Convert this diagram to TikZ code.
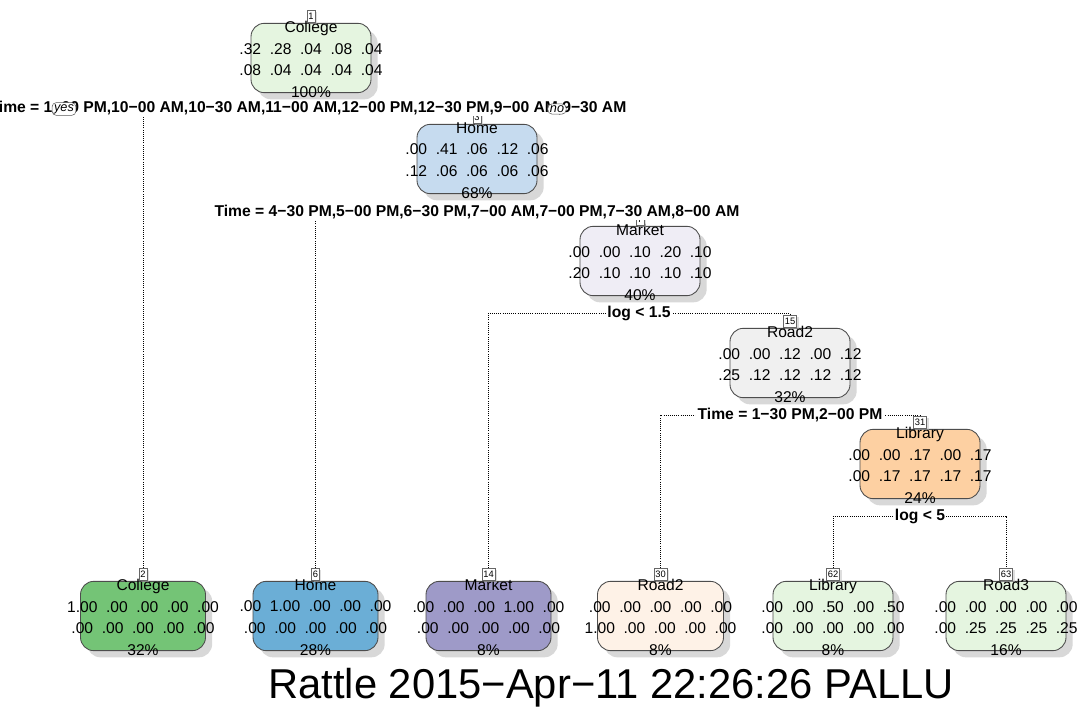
\documentclass[tikz,border=0pt]{standalone}
\usepackage{fontspec}
\setmainfont{Liberation Sans}
\usetikzlibrary{shadows}
\pgfdeclarelayer{bg}
\pgfsetlayers{bg,main}

\definecolor{collegeLt}{HTML}{E5F5E0}
\definecolor{collegeDk}{HTML}{74C476}
\definecolor{homeLt}{HTML}{C6DBEF}
\definecolor{homeDk}{HTML}{6BAED6}
\definecolor{marketLt}{HTML}{EFEDF5}
\definecolor{marketDk}{HTML}{9E9AC8}
\definecolor{roadLt}{HTML}{F0F0F0}
\definecolor{roadPale}{HTML}{FEF2E7}
\definecolor{libraryMd}{HTML}{FDD0A2}
\definecolor{boxline}{HTML}{4D4D4D}

% gap between the class probabilities in a row
\newcommand{\rg}{\hspace{.556em}}
% one tree node: box, its text, and the small node number on top
\newcommand{\rpnode}[7]{%
  \node[rpbox, fill=#4, minimum width={#5*0.75pt}] (#1) at (#2,#3+31) {};
  \node[rptext] (#1t) at (#2,#3+32.5) {#7};
  \node[rpnum] (#1k) at (#2,#3-11) {#6};
}

\begin{document}
\begin{tikzpicture}[x=0.75pt, y=-0.75pt,
    rpbox/.style={draw=boxline, line width=0.65pt, rounded corners=10pt,
      minimum height=52pt, inner sep=0pt,
      drop shadow={shadow xshift=5pt, shadow yshift=-5pt, fill=black!30}},
    rptext/.style={align=center, inner sep=0pt, font=\fontsize{11.7}{16.3}\selectfont},
    rpnum/.style={draw=gray!80!black, fill=white, line width=0.4pt, inner xsep=1pt,
      inner ysep=1pt, minimum height=9pt, font=\fontsize{7}{7.5}\selectfont,
      drop shadow={shadow xshift=1.5pt, shadow yshift=-1.5pt, fill=black!25}},
    splitlab/.style={fill=white, inner xsep=1pt, inner ysep=0.5pt,
      font=\bfseries\fontsize{11.75}{13}\selectfont},
    tag/.style={draw=gray!70!black, fill=white, rounded corners=3pt, inner xsep=1.5pt,
      inner ysep=1.2pt, font=\itshape\fontsize{9.5}{10}\selectfont},
    branch/.style={densely dotted, line width=0.6pt}]
  \useasboundingbox (0,0) rectangle (1080,712);

  % inner nodes
  \rpnode{n1}{311}{27}{collegeLt}{120}{1}{College\\.32\rg.28\rg.04\rg.08\rg.04\\.08\rg.04\rg.04\rg.04\rg.04\\100\%}
  \rpnode{n3}{477}{128}{homeLt}{120}{3}{Home\\.00\rg.41\rg.06\rg.12\rg.06\\.12\rg.06\rg.06\rg.06\rg.06\\68\%}
  \rpnode{n7}{640}{230}{marketLt}{120}{7}{Market\\.00\rg.00\rg.10\rg.20\rg.10\\.20\rg.10\rg.10\rg.10\rg.10\\40\%}
  \rpnode{n15}{790}{332}{roadLt}{120}{15}{Road2\\.00\rg.00\rg.12\rg.00\rg.12\\.25\rg.12\rg.12\rg.12\rg.12\\32\%}
  \rpnode{n31}{920}{433}{libraryMd}{120}{31}{Library\\.00\rg.00\rg.17\rg.00\rg.17\\.00\rg.17\rg.17\rg.17\rg.17\\24\%}

  % leaves
  \rpnode{n2}{143}{585}{collegeDk}{125}{2}{College\\1.00\rg.00\rg.00\rg.00\rg.00\\.00\rg.00\rg.00\rg.00\rg.00\\32\%}
  \rpnode{n6}{315.5}{585}{homeDk}{125}{6}{Home\\.00\rg1.00\rg.00\rg.00\rg.00\\.00\rg.00\rg.00\rg.00\rg.00\\28\%}
  \rpnode{n14}{488.5}{585}{marketDk}{125}{14}{Market\\.00\rg.00\rg.00\rg1.00\rg.00\\.00\rg.00\rg.00\rg.00\rg.00\\8\%}
  \rpnode{n30}{660.5}{585}{roadPale}{126}{30}{Road2\\.00\rg.00\rg.00\rg.00\rg.00\\1.00\rg.00\rg.00\rg.00\rg.00\\8\%}
  \rpnode{n62}{833}{585}{collegeLt}{120}{62}{Library\\.00\rg.00\rg.50\rg.00\rg.50\\.00\rg.00\rg.00\rg.00\rg.00\\8\%}
  \rpnode{n63}{1006}{585}{collegeLt}{120}{63}{Road3\\.00\rg.00\rg.00\rg.00\rg.00\\.00\rg.25\rg.25\rg.25\rg.25\\16\%}

  % split rules
  \node[splitlab] (s1) at (308,108) {Time = 1−00 PM,10−00 AM,10−30 AM,11−00 AM,12−00 PM,12−30 PM,9−00 AM,9−30 AM};
  \node[splitlab] (s3) at (477,212) {Time = 4−30 PM,5−00 PM,6−30 PM,7−00 AM,7−00 PM,7−30 AM,8−00 AM};
  \node[splitlab] (s7) at (639,313) {log < 1.5};
  \node[splitlab] (s15) at (790,415) {Time = 1−30 PM,2−00 PM};
  \node[splitlab] (s31) at (920,516) {log < 5};
  \node[tag] (yes) at (64,109) {yes};
  \node[tag] (no) at (557,109) {no};

  \node (stamp) at (611,688) {\fontsize{31.3}{36}\selectfont Rattle 2015−Apr−11 22:26:26 PALLU};

  \begin{pgfonlayer}{bg}
    \fill[white] (0,0) rectangle (1080,712);
    \draw[branch] (n2k.north) |- (s1.center) -| (n3k.north);
    \draw[branch] (n6k.north) |- (s3.center) -| (n7k.north);
    \draw[branch] (n14k.north) |- (s7.center) -| (n15k.north);
    \draw[branch] (n30k.north) |- (s15.center) -| (n31k.north);
    \draw[branch] (n62k.north) |- (s31.center) -| (n63k.north);
  \end{pgfonlayer}
\end{tikzpicture}
\end{document}
